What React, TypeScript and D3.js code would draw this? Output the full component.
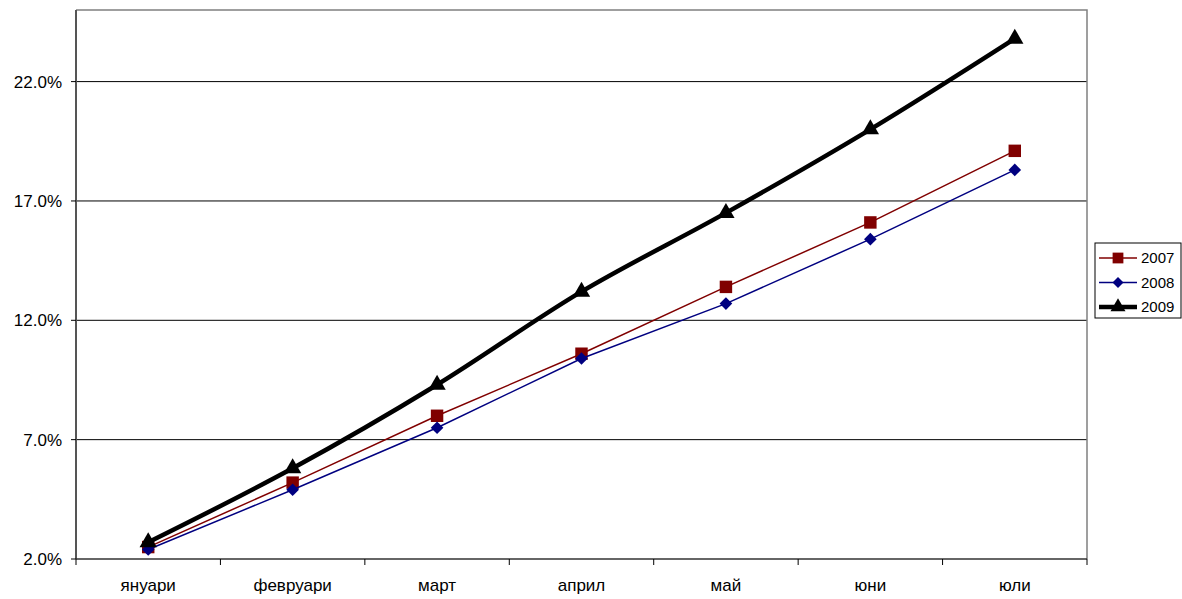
import React, { useEffect, useRef } from 'react';
import * as d3 from 'd3';

const width = 1182;
const height = 599;

const plot = { left: 76, top: 10, right: 1087, bottom: 559 };

const months = ['януари', 'февруари', 'март', 'април', 'май', 'юни', 'юли'];
const yTicks = [2, 7, 12, 17, 22];

const values2007 = [2.5, 5.2, 8.0, 10.6, 13.4, 16.1, 19.1];
const values2008 = [2.4, 4.9, 7.5, 10.4, 12.7, 15.4, 18.3];
const values2009 = [2.7, 5.8, 9.3, 13.2, 16.5, 20.0, 23.8];

type Series = {
  name: string;
  values: number[];
  color: string;
  lineWidth: number;
  symbol: d3.SymbolType;
  size: number;
  rotate: number;
  smooth: boolean;
};

const series: Series[] = [
  { name: '2007', values: values2007, color: '#800000', lineWidth: 1.5, symbol: d3.symbolSquare, size: 155, rotate: 0, smooth: false },
  { name: '2008', values: values2008, color: '#000080', lineWidth: 1.5, symbol: d3.symbolSquare, size: 80, rotate: 45, smooth: false },
  { name: '2009', values: values2009, color: '#000000', lineWidth: 4.5, symbol: d3.symbolTriangle, size: 130, rotate: 0, smooth: true },
];

const font = '"Liberation Sans", Arial, sans-serif';

export default function App(): JSX.Element {
  const container = useRef<SVGSVGElement>(null);

  useEffect(() => {
    const svg = d3.select(container.current);
    svg.selectAll('*').remove();

    const xScale = d3
      .scaleBand<string>()
      .domain(months)
      .range([plot.left, plot.right]);
    const yScale = d3
      .scaleLinear()
      .domain([2, 25])
      .range([plot.bottom, plot.top]);

    // gridlines
    svg
      .append('g')
      .selectAll('line')
      .data(yTicks.slice(1))
      .join('line')
      .attr('x1', plot.left)
      .attr('x2', plot.right)
      .attr('y1', (d) => yScale(d))
      .attr('y2', (d) => yScale(d))
      .attr('stroke', '#000')
      .attr('stroke-width', 1);

    // plot border (top, right)
    svg
      .append('path')
      .attr('d', `M${plot.left},${plot.top}H${plot.right}V${plot.bottom}`)
      .attr('fill', 'none')
      .attr('stroke', '#808080')
      .attr('stroke-width', 1.5);

    // y axis
    const yAxis = svg.append('g').attr('transform', `translate(${plot.left},0)`);
    yAxis
      .append('line')
      .attr('y1', plot.top)
      .attr('y2', plot.bottom)
      .attr('stroke', '#555')
      .attr('stroke-width', 2);
    yAxis
      .selectAll('line.tick')
      .data(yTicks)
      .join('line')
      .attr('class', 'tick')
      .attr('x1', -5)
      .attr('x2', 0)
      .attr('y1', (d) => yScale(d))
      .attr('y2', (d) => yScale(d))
      .attr('stroke', '#000');
    yAxis
      .selectAll('text')
      .data(yTicks)
      .join('text')
      .attr('x', -14)
      .attr('y', (d) => yScale(d))
      .attr('dy', '0.35em')
      .attr('text-anchor', 'end')
      .attr('font-family', font)
      .attr('font-size', 17)
      .text((d) => d3.format('.1f')(d) + '%');

    // x axis
    const xAxis = svg.append('g').attr('transform', `translate(0,${plot.bottom})`);
    xAxis
      .append('line')
      .attr('x1', plot.left)
      .attr('x2', plot.right)
      .attr('stroke', '#333')
      .attr('stroke-width', 1.5);
    const bounds = months.map((m) => xScale(m) as number).concat([plot.right]);
    xAxis
      .selectAll('line.tick')
      .data(bounds)
      .join('line')
      .attr('class', 'tick')
      .attr('x1', (d) => d)
      .attr('x2', (d) => d)
      .attr('y1', 0)
      .attr('y2', 6)
      .attr('stroke', '#000');
    xAxis
      .selectAll('text')
      .data(months)
      .join('text')
      .attr('x', (d) => (xScale(d) as number) + xScale.bandwidth() / 2)
      .attr('y', 32)
      .attr('text-anchor', 'middle')
      .attr('font-family', font)
      .attr('font-size', 17)
      .text((d) => d);

    const cx = (i: number) => (xScale(months[i]) as number) + xScale.bandwidth() / 2;

    series.forEach((s) => {
      const line = d3
        .line<number>()
        .x((_, i) => cx(i))
        .y((d) => yScale(d))
        .curve(s.smooth ? d3.curveCatmullRom.alpha(0.5) : d3.curveLinear);
      svg
        .append('path')
        .attr('d', line(s.values) || '')
        .attr('fill', 'none')
        .attr('stroke', s.color)
        .attr('stroke-width', s.lineWidth)
        .attr('stroke-linejoin', 'round');
      const sym = d3.symbol().type(s.symbol).size(s.size);
      svg
        .append('g')
        .selectAll('path')
        .data(s.values)
        .join('path')
        .attr('transform', (d, i) => `translate(${cx(i)},${yScale(d)}) rotate(${s.rotate})`)
        .attr('d', sym() || '')
        .attr('fill', s.color);
    });

    // legend
    const legend = svg.append('g').attr('transform', 'translate(1095,243)');
    legend
      .append('rect')
      .attr('width', 86)
      .attr('height', 75)
      .attr('fill', '#fff')
      .attr('stroke', '#000')
      .attr('stroke-width', 1);
    series.forEach((s, i) => {
      const y = 15 + i * 24.5;
      const row = legend.append('g').attr('transform', `translate(0,${y})`);
      row
        .append('line')
        .attr('x1', 4)
        .attr('x2', 42)
        .attr('stroke', s.color)
        .attr('stroke-width', s.lineWidth);
      row
        .append('path')
        .attr('transform', `translate(23,0) rotate(${s.rotate})`)
        .attr('d', d3.symbol().type(s.symbol).size(s.size * 0.75)() || '')
        .attr('fill', s.color);
      row
        .append('text')
        .attr('x', 46)
        .attr('dy', '0.35em')
        .attr('font-family', font)
        .attr('font-size', 15)
        .text(s.name);
    });
  }, []);

  return (
    <svg
      ref={container}
      width={width}
      height={height}
      style={{ display: 'block', position: 'absolute', left: 0, top: 0 }}
    />
  );
}
